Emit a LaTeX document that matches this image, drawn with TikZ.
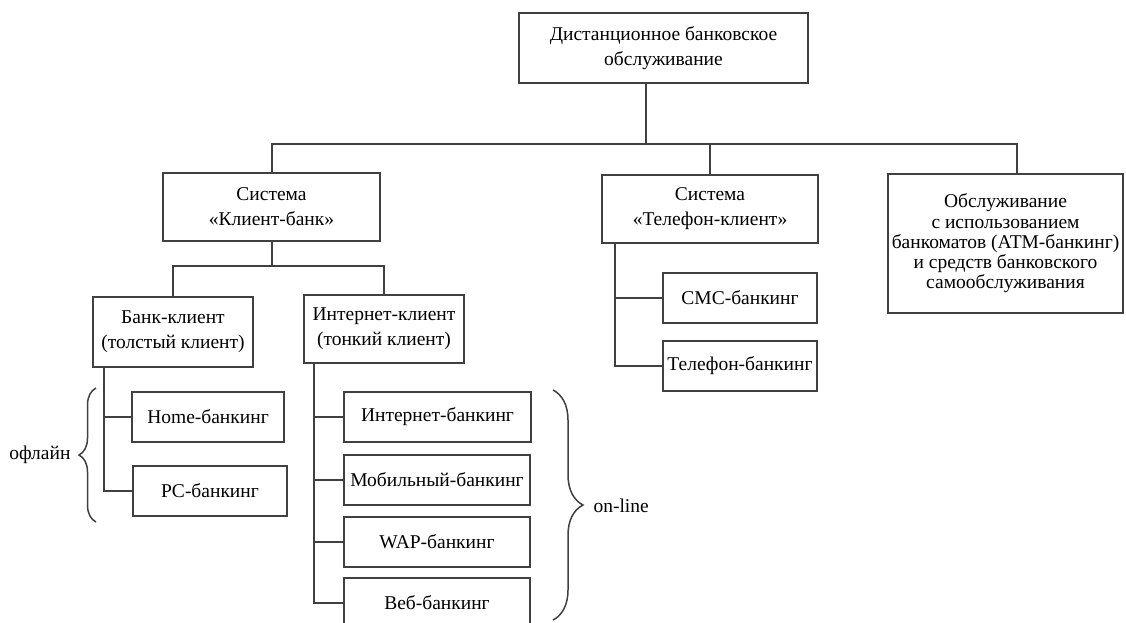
\documentclass[tikz,border=0pt]{standalone}
\usepackage{fontspec}
\setmainfont{Liberation Serif}
\usetikzlibrary{positioning,decorations.pathreplacing}
\definecolor{frame}{HTML}{404040}

\begin{document}
\begin{tikzpicture}[x=1pt, y=-1pt,
  box/.style={draw=frame, line width=2pt, align=center, inner sep=0pt,
              font=\fontsize{19.5}{25}\selectfont},
  leaf/.style={box, minimum height=50pt},
  link/.style={draw=frame, line width=2pt},
  curly/.style={draw=frame, line width=1.5pt, decorate}
]
\useasboundingbox (0,0) rectangle (1126,622);

\node[box, minimum width=289pt, minimum height=70pt] (top) at (663.5,48)
    {Дистанционное банковское\\обслуживание};

\node[box, minimum width=217pt, minimum height=68pt] (kb) at (271.5,207)
    {Система\\«Клиент-банк»};
\node[box, minimum width=216pt, minimum height=68pt] (tk) at (710,209)
    {Система\\«Телефон-клиент»};
\node[box, minimum width=235pt, minimum height=139pt,
      font=\fontsize{19.5}{20.3}\selectfont] (atm) at (1005.5,243.5)
    {Обслуживание\\с использованием\\банкоматов (АТМ-банкинг)\\и средств банковского\\самообслуживания};

\node[box, minimum width=160pt, minimum height=70pt] (bc) at (173,332)
    {Банк-клиент\\(толстый клиент)};
\node[box, minimum width=160pt, minimum height=68pt] (ic) at (384,329)
    {Интернет-клиент\\(тонкий клиент)};

\node[leaf, minimum width=152pt] (home) at (208,417) {Home-банкинг};
\node[leaf, minimum width=154pt] (pc)   at (210,490.5) {PC-банкинг};

\node[leaf, minimum width=187pt] (ib)  at (437.5,417) {Интернет-банкинг};
\node[leaf, minimum width=186pt] (mb)  at (437,480) {Мобильный-банкинг};
\node[leaf, minimum width=186pt] (wap) at (437,541.5) {WAP-банкинг};
\node[leaf, minimum width=186pt] (web) at (437,603) {Веб-банкинг};

\node[leaf, minimum width=154pt] (sms) at (740,298) {СМС-банкинг};
\node[leaf, minimum width=154pt] (tb)  at (740,366) {Телефон-банкинг};

% шина верхнего уровня
\coordinate (bus) at (646,144);
\draw[link] (top.south -| bus) -- (bus);
\draw[link] (kb.north) |- ([xshift=11.5pt]atm.north |- bus) -- ([xshift=11.5pt]atm.north);
\draw[link] (tk.north) -- (tk.north |- bus);

% Клиент-банк
\coordinate (kbbus) at (271.5,266);
\draw[link] (kb.south) -- (kbbus);
\draw[link] (bc.north) |- (kbbus) -| (ic.north);

\foreach \n in {home,pc}
  \draw[link] ([xshift=-69pt]bc.south) |- (\n.west);
\foreach \n in {ib,mb,wap,web}
  \draw[link] ([xshift=-70pt]ic.south) |- (\n.west);
\foreach \n in {sms,tb}
  \draw[link] ([xshift=-95pt]tk.south) |- (\n.west);

% скобки
\coordinate (off1) at (96,522);
\coordinate (off2) at (96,388);
\draw[curly, decoration={brace, amplitude=17pt}] (off1) -- (off2);
\node[font=\fontsize{19.5}{20}\selectfont, anchor=east] (offl) at (74,455) {офлайн};

\coordinate (on1) at (553,390);
\coordinate (on2) at (553,620);
\draw[curly, decoration={brace, amplitude=30pt}] (on1) -- (on2);
\node[font=\fontsize{19.5}{20}\selectfont, anchor=west] (onl) at (590,506) {on-line};
\end{tikzpicture}
\end{document}
